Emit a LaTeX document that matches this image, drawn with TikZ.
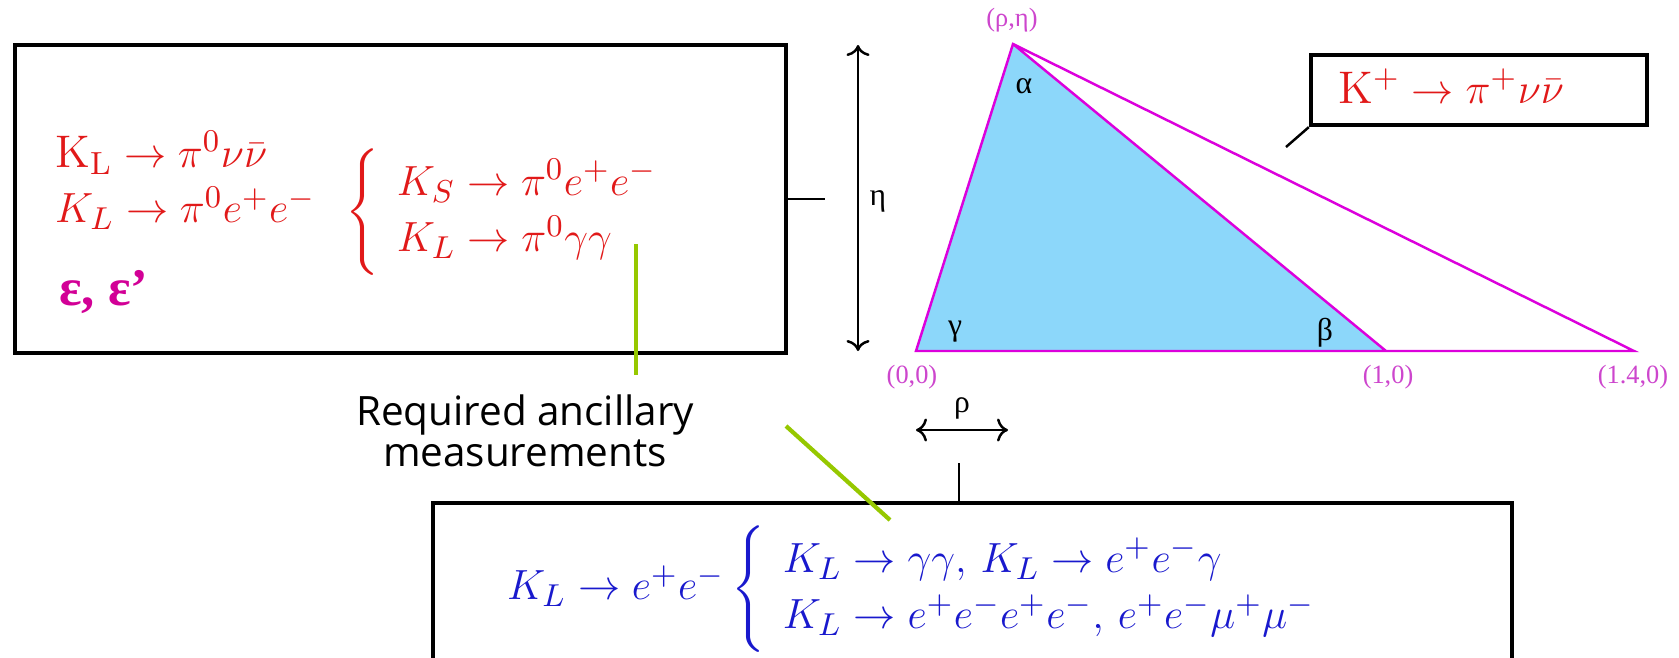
\documentclass[tikz,border=0pt]{standalone}
\usepackage{amsmath}
\usepackage{fontspec}
\usetikzlibrary{arrows.meta}
\newfontfamily\grk{Liberation Serif}
\newfontfamily\rotulo{Open Sans}
\definecolor{rojo}{RGB}{225,25,25}
\definecolor{azul}{RGB}{25,25,205}
\definecolor{lila}{RGB}{220,0,220}
\definecolor{lilaclaro}{RGB}{205,70,205}
\definecolor{rosa}{RGB}{210,0,150}
\definecolor{celeste}{RGB}{140,215,250}
\definecolor{verde}{RGB}{150,200,0}
\tikzset{
  caja/.style={draw, line width=1.2pt, inner sep=0pt},
  ecua/.style={anchor=west, inner sep=0pt, font=\fontsize{13}{16}\selectfont},
  vert/.style={lilaclaro, font=\grk\fontsize{7.5}{9}\selectfont, inner sep=0pt},
  angulo/.style={font=\grk\fontsize{9}{11}\selectfont, inner sep=0pt},
  guia/.style={verde, line width=1.2pt}
}
\begin{document}
\begin{tikzpicture}[x=0.01cm, y=-0.01cm, >={To[length=1.1mm]}, line width=0.7pt]
  \useasboundingbox (0,0) rectangle (1679,657);
  % cajas
  \node[caja, minimum width=7.71cm, minimum height=3.08cm] (izq) at (400.5,199) {};
  \node[caja, minimum width=3.36cm, minimum height=0.70cm] (kmas) at (1479,90) {};
  \node[caja, minimum width=10.79cm, minimum height=1.9cm] (abajo) at (972.5,598) {};
  % modos de desintegracion
  \node[ecua, text=rojo] (klnn) at (54,153) {$\mathrm{K_L}\to\pi^0\nu\bar\nu$};
  \node[ecua, text=rojo] (klee) at (54,212) {$K_L\to\pi^0e^+e^-\enspace\left\{\begin{array}{l}K_S\to\pi^0e^+e^-\\ K_L\to\pi^0\gamma\gamma\end{array}\right.$};
  \node[anchor=west, inner sep=0pt, text=rosa, font=\grk\bfseries\fontsize{15}{18}\selectfont] (eps) at (58,292) {ε, ε’};
  \node[ecua, text=rojo] (kpnn) at (1337,86) {$\mathrm{K^+}\to\pi^+\nu\bar\nu$};
  \node[ecua, text=azul] (kee) at (506,589) {$K_L\to e^+e^-\left\{\begin{array}{l}K_L\to\gamma\gamma,\,K_L\to e^+e^-\gamma\\ K_L\to e^+e^-e^+e^-,\,e^+e^-\mu^+\mu^-\end{array}\right.$};
  \node[font=\rotulo\fontsize{11.5}{11.5}\selectfont, align=center] (req) at (525,431) {Required ancillary\\measurements};
  % triangulo unitario
  \coordinate (O) at (916,351);
  \coordinate (A) at (1013,44);
  \coordinate (B) at (1386,351);
  \coordinate (C) at (1634,351);
  \fill[celeste] (O)--(A)--(B)--cycle;
  \draw[lila] (O)--(A)--(C)--cycle (A)--(B);
  \node[vert] (lA) at (1012,20) {(ρ,η)};
  \node[vert] (lO) at (912,377) {(0,0)};
  \node[vert] (lB) at (1388,377) {(1,0)};
  \node[vert] (lC) at (1633,377) {(1.4,0)};
  \node[angulo] (alfa) at (1024,86) {α};
  \node[angulo] (gama) at (955,332) {γ};
  \node[angulo] (beta) at (1325,333) {β};
  % ejes rho y eta
  \coordinate (e1) at (858,45);
  \coordinate (e2) at (858,351);
  \draw[<->] (e1) -- (e2);
  \node[angulo] (eta) at (878,201) {η};
  \coordinate (r1) at (916,430);
  \coordinate (r2) at (1008,430);
  \draw[<->] (r1) -- (r2);
  \node[angulo] (rho) at (962,408) {ρ};
  % trazos de union
  \coordinate (t1) at (825,199);
  \draw (izq.east) -- (t1);
  \coordinate (t2) at (959,463);
  \draw (t2) -- (abajo.north -| t2);
  \coordinate (t3) at (1286,147);
  \draw (kmas.south west) -- (t3);
  % lineas verdes
  \coordinate (g1) at (636,244);
  \coordinate (g2) at (636,375);
  \draw[guia] (g1) -- (g2);
  \coordinate (g3) at (786,426);
  \coordinate (g4) at (890,520);
  \draw[guia] (g3) -- (g4);
\end{tikzpicture}
\end{document}
